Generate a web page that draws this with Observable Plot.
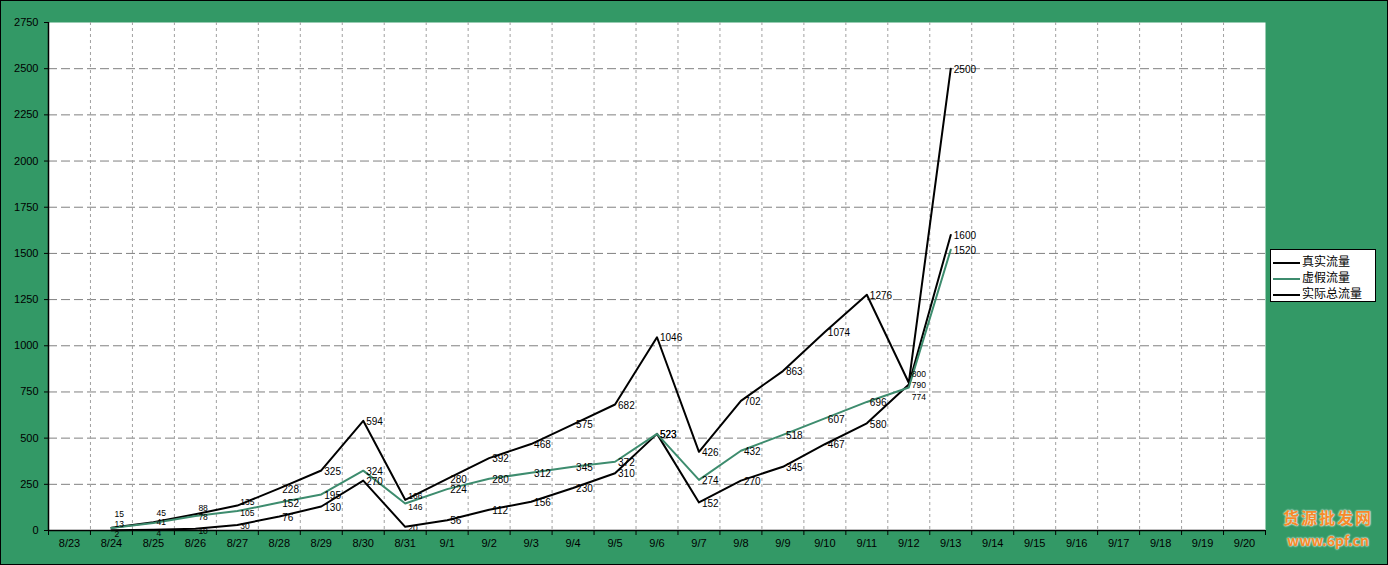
<!DOCTYPE html>
<html><head><meta charset="utf-8">
<script src="https://cdn.jsdelivr.net/npm/d3@7"></script>
<script src="https://cdn.jsdelivr.net/npm/@observablehq/plot@0.6"></script>
<style>
body{margin:0;background:#339966;}
#wrap{position:relative;width:1388px;height:565px;overflow:hidden;background:#339966;}
#frame{position:absolute;left:0;top:0;width:1386px;height:563px;border:1px solid #000;pointer-events:none}
#legend{position:absolute;left:1270px;top:249px;width:106px;height:53px;background:#fff;border:1px solid #000;box-sizing:border-box;font:12px "Noto Sans CJK SC";color:#000;}
#legend .row{position:absolute;left:2px;height:16px;line-height:16px;white-space:nowrap;}
#legend .sw{display:inline-block;width:27px;height:0;border-top:2px solid #000;vertical-align:middle;margin-right:2px;}
#wm{position:absolute;left:1272px;top:505px;width:112px;font-family:"Noto Sans CJK SC";color:#f58a2a;font-weight:bold;text-align:center;text-shadow:0 0 2px #fff,0 0 2px #fff;}
#wm div{white-space:nowrap;}
</style></head>
<body>
<div id="wrap"><div id="chart"></div>
<div id="legend">
<div class="row" style="top:3px"><span class="sw"></span>真实流量</div>
<div class="row" style="top:19px"><span class="sw" style="border-color:#3d8c6e"></span>虚假流量</div>
<div class="row" style="top:35px"><span class="sw"></span>实际总流量</div>
</div>
<div id="wm"><div style="font-size:16px;line-height:25px;height:25px;letter-spacing:2px">货源批发网</div><div style="font-size:14px;line-height:20px;height:20px">www.6pf.cn</div></div>
<div id="frame"></div>
</div>
<script>
const dates = ["8/23","8/24","8/25","8/26","8/27","8/28","8/29","8/30","8/31","9/1","9/2","9/3","9/4","9/5","9/6","9/7","9/8","9/9","9/10","9/11","9/12","9/13","9/14","9/15","9/16","9/17","9/18","9/19","9/20"];
const realTraffic  = [null, 2, 4, 10, 30, 76, 130, 270, 20, 56, 112, 156, 230, 310, 523, 152, 270, 345, 467, 580, 790, 1600];
const fakeTraffic  = [null, 13, 41, 78, 105, 152, 195, 324, 146, 224, 280, 312, 345, 372, 523, 274, 432, 518, 607, 696, 774, 1520];
const totalTraffic = [null, 15, 45, 88, 135, 228, 325, 594, 166, 280, 392, 468, 575, 682, 1046, 426, 702, 863, 1074, 1276, 800, 2500];
const seriesNames = ["真实流量","虚假流量","实际总流量"];
const seriesColors = ["#000000","#3d8c6e","#000000"];
const yTicks = [0,250,500,750,1000,1250,1500,1750,2000,2250,2500,2750];

const allSeries = [realTraffic, fakeTraffic, totalTraffic];
// small vertical nudges [real, fake, total] for labels where the series crowd together
const labelNudge = {1: [4, -4, -13], 2: [4, -1, -9], 3: [3, 1, -6], 4: [1, 2, -3], 8: [1, 4, -4], 20: [1, 10, -8]};
const rows = allSeries.flatMap((arr, s) => arr.map((v, i) => ({s, i, v, dy: labelNudge[i] ? labelNudge[i][s] : 1})).filter(d => d.v != null));

const idx = d3.range(dates.length);
const bounds = d3.range(dates.length + 1).map(i => i - 0.5);
const font = "Liberation Sans, Arial, sans-serif";

const marks = [
  Plot.frame({fill: "#ffffff", stroke: null}),
  Plot.gridY(yTicks.filter(t => t > 0 && t < 2750), {stroke: "#808080", strokeOpacity: 1, strokeDasharray: "9,4"}),
  Plot.gridX(bounds.slice(1, -1), {stroke: "#a0a0a0", strokeOpacity: 1, strokeDasharray: "3,3"}),
  Plot.ruleY([0], {stroke: "#000", strokeWidth: 1.5}),
  Plot.ruleX([-0.5], {stroke: "#000", strokeWidth: 1.5}),
  Plot.axisY(yTicks, {tickSize: 4, tickPadding: 6, fontSize: 11, label: null, tickFormat: d => String(d), fill: "#000", stroke: "#000"}),
  Plot.axisX(idx, {tickSize: 0, tickPadding: 9, fontSize: 11, label: null, tickFormat: i => dates[i], fill: "#000"}),
  Plot.axisX(bounds, {tickSize: 5, tickFormat: () => "", label: null, stroke: "#000"})
];
[0, 2, 1].forEach(s => {
  marks.push(Plot.line(rows.filter(d => d.s === s), {x: "i", y: "v", stroke: seriesColors[s], strokeWidth: 2}));
});
rows.forEach(d => {
  marks.push(Plot.text([d], {x: "i", y: "v", text: d => String(d.v), dx: 3, dy: d.dy, textAnchor: "start", fontSize: labelNudge[d.i] ? 8.5 : 10, fill: "#000"}));
});

const chart = Plot.plot({
  width: 1388, height: 565,
  marginLeft: 48, marginRight: 123, marginTop: 22, marginBottom: 35,
  style: {background: "transparent", fontFamily: font, color: "#000"},
  x: {type: "linear", domain: [-0.5, dates.length - 0.5]},
  y: {domain: [0, 2750]},
  marks
});
document.getElementById("chart").appendChild(chart);
</script>
</body></html>
